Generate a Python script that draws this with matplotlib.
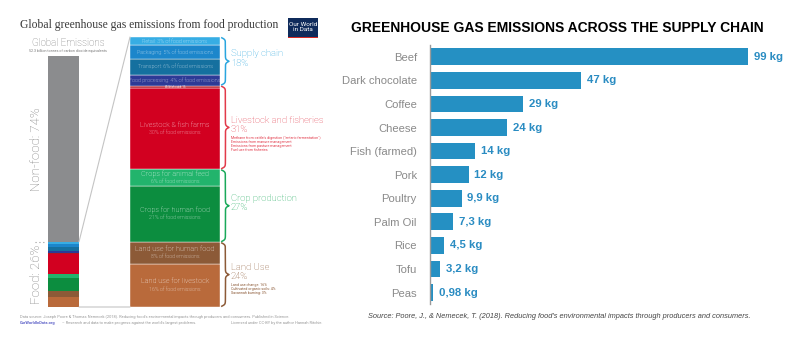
import numpy as np
import matplotlib.pyplot as plt
from matplotlib.patches import ConnectionPatch, Rectangle

# ---- left infographic: global emissions split and food breakdown (%)
global_parts = ["Food", "Non-food"]
global_share = [26, 74]

seg_names = ["Land use for livestock", "Land use for human food", "Crops for human food",
             "Crops for animal feed", "Livestock & fish farms", "Wild fish catch",
             "Food processing", "Transport", "Packaging", "Retail"]
seg_share = [16, 8, 21, 6, 30, 1, 4, 6, 5, 3]
seg_colors = ["#b96a3b", "#8c5a37", "#0c8d3f", "#22b46c", "#d20020", "#b3141f",
              "#2d3a96", "#15709f", "#1c86cb", "#37ade4"]

groups = ["Land Use", "Crop production", "Livestock and fisheries", "Supply chain"]
group_share = [24, 27, 31, 18]
group_colors = ["#8c5a37", "#1aa95a", "#e23a4a", "#2aa6df"]
group_notes = [["Land use change: 16%", "Cultivated organic soils: 4%", "Savannah burning: 3%"],
               [],
               ["Methane from cattle's digestion (\"enteric fermentation\")",
                "Emissions from manure management", "Emissions from pasture management",
                "Fuel use from fisheries"],
               []]

# ---- right chart: kg CO2eq per kg of food
foods = ["Beef", "Dark chocolate", "Coffee", "Cheese", "Fish (farmed)", "Pork",
         "Poultry", "Palm Oil", "Rice", "Tofu", "Peas"]
kg = [99, 47, 29, 24, 14, 12, 9.9, 7.3, 4.5, 3.2, 0.98]

W, H = 798, 344
fig = plt.figure(figsize=(W / 100, H / 100), dpi=100)
sans = "Roboto"

def fig_box(x0, y0, w, h):
    return [x0 / W, 1 - (y0 + h) / H, w / W, h / H]

# global bar
ax_g = fig.add_axes(fig_box(48, 56, 31, 251))
bottom = 0
for share, col in zip(seg_share, seg_colors):
    ax_g.bar([0], [share * global_share[0] / 100], bottom=bottom, width=1, color=col, lw=0)
    bottom += share * global_share[0] / 100
ax_g.bar([0], [global_share[1]], bottom=global_share[0], width=1, color="#8b8c8e", lw=0)
ax_g.set_xlim(-0.5, 0.5)
ax_g.set_ylim(0, 100)
ax_g.axis("off")
ax_g.plot([-0.93, -0.55], [global_share[0]] * 2, ls=(0, (1, 2.5)), color="#999999", lw=0.8, clip_on=False)
ax_g.text(-0.86, global_share[0] + global_share[1] / 2, f"Non-food: {global_share[1]}%", rotation=90,
          ha="center", va="center", fontsize=9.5, color="#7a7a7a", family=sans, weight="light")
ax_g.text(-0.86, global_share[0] / 2, f"Food: {global_share[0]}%", rotation=90,
          ha="center", va="center", fontsize=9.5, color="#7a7a7a", family=sans, weight="light")

# food column
ax_c = fig.add_axes(fig_box(130, 37, 90, 270))
cum = np.concatenate([[0], np.cumsum(seg_share)])
ax_c.bar([0] * len(seg_share), seg_share, bottom=cum[:-1], width=1, color=seg_colors,
         edgecolor="white", lw=0.3)
ax_c.set_xlim(-0.5, 0.5)
ax_c.set_ylim(0, 100)
ax_c.axis("off")
for name, share, lo in zip(seg_names, seg_share, cum[:-1]):
    mid = lo + share / 2
    if share >= 6 and name != "Transport":
        ax_c.annotate(name, (0, mid), xytext=(0, 2.6), textcoords="offset points", ha="center",
                      va="center", fontsize=5.2, color="white", family=sans, weight="light")
        ax_c.annotate(f"{share}% of food emissions", (0, mid), xytext=(0, -2.8),
                      textcoords="offset points", ha="center", va="center", fontsize=3.8,
                      color="white", family=sans, weight="light")
    elif share == 1:
        ax_c.text(0, mid, f"{name}: {share}%", ha="center", va="center", fontsize=1.8,
                  color="white", family=sans)
    else:
        ax_c.text(0, mid, f"{name}: {share}% of food emissions", ha="center", va="center",
                  fontsize=3.9, color="white", family=sans, weight="light")

# connector lines between global bar and column
for ya, yb in [(global_share[0], 100), (0, 0)]:
    con = ConnectionPatch(xyA=(0.5, ya), coordsA=ax_g.transData, xyB=(-0.5, yb),
                          coordsB=ax_c.transData, color="#c4c4c4", lw=0.8)
    fig.add_artist(con)

# curly braces with group labels
def brace(ax, y0, y1, color, x=1.02, w=0.08, k=3.0):
    ys = np.linspace(y0, y1, 301)
    half = ys[:151]
    xh = 1 / (1 + np.exp(-k * (half - half[0]))) + 1 / (1 + np.exp(-k * (half - half[-1])))
    xs = np.concatenate([xh, xh[-2::-1]])
    ax.plot(x + w * (xs - 0.5), ys, transform=ax.get_yaxis_transform(), color=color,
            lw=1.1, clip_on=False)

tr = ax_c.get_yaxis_transform()
gcum = np.concatenate([[0], np.cumsum(group_share)])
for name, share, lo, col, notes in zip(groups, group_share, gcum[:-1], group_colors, group_notes):
    brace(ax_c, lo + 0.3, lo + share - 0.3, col)
    mid = lo + share / 2
    ax_c.text(1.12, mid + 1.0, f"{name}\n{share}%", transform=tr, ha="left", va="center",
              fontsize=6.8, color=col, family=sans, weight="light", linespacing=1.05)
    for i, note in enumerate(notes):
        ax_c.annotate(note, (1.12, mid), xycoords=tr, xytext=(0, -7.5 - 3.0 * i),
                      textcoords="offset points", ha="left", va="center", fontsize=2.6,
                      color=col, family=sans)

# ---- right bar chart
ax_b = fig.add_axes(fig_box(430, 45, 360, 259.3))
y = np.arange(len(foods))
ax_b.barh(y, kg, height=0.71, color="#2590c3")
for yi, v in zip(y, kg):
    ax_b.annotate(f"{v:g}".replace(".", ",") + " kg", (v, yi), xytext=(4, 0),
                  textcoords="offset points", va="center", ha="left", fontsize=8.2,
                  weight="bold", color="#2a8cc2", family="Liberation Sans")
ax_b.set_xlim(0, 112)
ax_b.set_ylim(len(foods) - 0.5, -0.5)
ax_b.set_yticks(y, foods)
ax_b.set_xticks([])
ax_b.tick_params(left=False, pad=6)
for lab in ax_b.get_yticklabels():
    lab.set_fontsize(8.1)
    lab.set_color("#8a8a8a")
    lab.set_family("Liberation Sans")
for s in ["top", "right", "bottom"]:
    ax_b.spines[s].set_visible(False)
ax_b.spines["left"].set_color("#9a9a9a")
ax_b.spines["left"].set_linewidth(1)
ax_b.patch.set_alpha(0)

# ---- overlay for titles and footers (pixel coordinates)
ov = fig.add_axes([0, 0, 1, 1])
ov.set_xlim(0, W)
ov.set_ylim(H, 0)
ov.axis("off")

ov.text(20, 25, "Global greenhouse gas emissions from food production", ha="left", va="center",
        fontsize=8.4, color="#3a3a3a", family="Liberation Serif")
ov.add_patch(Rectangle((288, 18), 30, 20, color="#0f2b5b", lw=0))
ov.add_patch(Rectangle((288, 36.5), 30, 1.8, color="#d42b25", lw=0))
ov.text(303, 27, "Our World\nin Data", ha="center", va="center", fontsize=4.6, color="white",
        family=sans, linespacing=0.95)
ov.text(68, 43, "Global Emissions", ha="center", va="center", fontsize=7, color="#7a7a7a",
        family=sans, weight="light")
ov.text(68, 51, "52.3 billion tonnes of carbon dioxide equivalents", ha="center", va="center",
        fontsize=2.6, color="#7a7a7a", family=sans)
ov.text(20, 317, "Data source: Joseph Poore & Thomas Nemecek (2018). Reducing food's environmental "
        "impacts through producers and consumers. Published in Science.", ha="left", va="center",
        fontsize=2.9, color="#9a9a9a", family=sans)
ov.text(20, 323, "OurWorldInData.org", ha="left", va="center", fontsize=2.9, color="#5b5fc7",
        family=sans, weight="bold")
ov.text(62, 323, "\u2013 Research and data to make progress against the world's largest problems.",
        ha="left", va="center", fontsize=2.9, color="#9a9a9a", family=sans)
ov.text(322, 323, "Licensed under CC-BY by the author Hannah Ritchie.", ha="right", va="center",
        fontsize=2.9, color="#9a9a9a", family=sans)

ov.text(557, 28, "GREENHOUSE GAS EMISSIONS ACROSS THE SUPPLY CHAIN", ha="center", va="center",
        fontsize=10, weight="bold", color="black", family="Liberation Sans")
ov.text(559, 317, "Source: Poore, J., & Nemecek, T. (2018). Reducing food's environmental impacts "
        "through producers and consumers.", ha="center", va="center", fontsize=5.3,
        style="italic", color="#444444", family="Liberation Sans")

fig.savefig("out.png", dpi=100)
